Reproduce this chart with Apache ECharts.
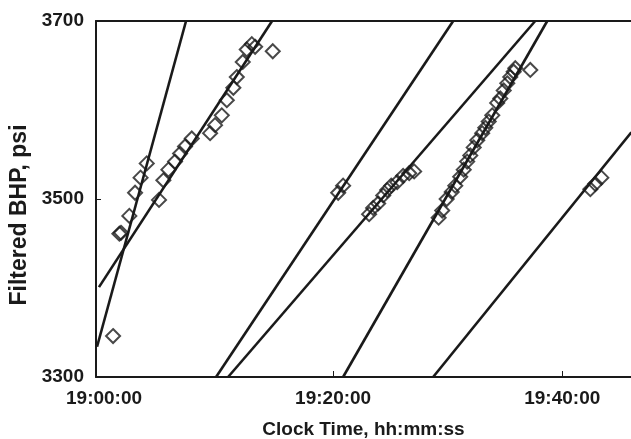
<!DOCTYPE html>
<html>
<head>
<meta charset="utf-8">
<script src="https://cdn.jsdelivr.net/npm/echarts@6/dist/echarts.min.js"></script>
<style>
    html, body { margin: 0; padding: 0; background: #fff; }
    #chartmain { width: 631px; height: 439px; }
</style>
</head>
<body>
<div id="chartmain"></div>
<script>
// x = minutes after 19:00:00, y = filtered BHP (psi)
var xTickValues = [0, 20, 40];
var xTickLabels = ['19:00:00', '19:20:00', '19:40:00'];
var yTickValues = [3300, 3500, 3700];

// 测点 (diamonds), one group per flow period
var pointsA = [[0.79, 3346], [1.34, 3461], [1.48, 3462], [2.21, 3481], [2.71, 3507], [3.19, 3524], [3.73, 3540]];
var pointsB = [[4.80, 3499], [5.18, 3521], [5.62, 3533], [6.20, 3542], [6.64, 3551], [7.07, 3559], [7.66, 3568],
    [9.26, 3574], [9.69, 3583], [10.28, 3594], [10.72, 3611], [11.29, 3625], [11.59, 3637], [12.11, 3654],
    [12.46, 3668], [12.90, 3674], [13.19, 3671], [14.73, 3666]];
var pointsC = [[20.44, 3507], [20.87, 3515]];
var pointsD = [[23.14, 3483], [23.49, 3490], [23.93, 3495], [24.37, 3504], [24.72, 3510], [25.07, 3515],
    [25.59, 3519], [26.11, 3526], [26.64, 3529], [27.07, 3531]];
var pointsE = [[29.21, 3479], [29.52, 3487], [29.91, 3500], [30.35, 3508], [30.66, 3515], [31.09, 3525],
    [31.40, 3533], [31.70, 3542], [31.97, 3549], [32.27, 3558], [32.58, 3566], [33.01, 3574], [33.28, 3580],
    [33.58, 3587], [33.89, 3594], [34.32, 3608], [34.59, 3613], [34.89, 3622], [35.20, 3630], [35.46, 3637],
    [35.76, 3643], [35.90, 3647], [37.21, 3645]];
var pointsF = [[42.45, 3511], [42.88, 3517], [43.41, 3524]];

// 拟合直线 (end points)
var line1 = [[-0.61, 3334], [7.16, 3700]];
var line2 = [[-0.44, 3401], [14.67, 3700]];
var line3 = [[9.78, 3300], [30.48, 3700]];
var line4 = [[10.83, 3300], [37.64, 3700]];
var line5 = [[20.87, 3300], [38.69, 3700]];
var line6 = [[28.73, 3300], [46.03, 3575]];

var ink = '#1a1a1a';
var fontFamily = '"Liberation Sans", Arial, Helvetica, sans-serif';

function lineSeries(data) {
    return {
        type: 'line',
        data: data,
        symbol: 'none',
        silent: true,
        lineStyle: { color: ink, width: 2.6 },
        z: 3
    };
}

function pointSeries(data) {
    return {
        type: 'scatter',
        data: data,
        symbol: 'diamond',
        symbolSize: [14, 14],
        itemStyle: { color: 'rgba(255,255,255,0)', borderColor: ink, borderWidth: 2 },
        z: 4
    };
}

var myChart = echarts.init(document.getElementById('chartmain'));
var option = {
    animation: false,
    backgroundColor: '#fff',
    grid: { left: 96, right: 0, top: 21, bottom: 62, containLabel: false, outerBoundsMode: 'none' },
    xAxis: [{
        type: 'value',
        min: -0.7,
        max: 46,
        name: 'Clock Time, hh:mm:ss',
        nameLocation: 'middle',
        nameGap: 43,
        nameTextStyle: { color: ink, fontFamily: fontFamily, fontWeight: 'bold', fontSize: 19 },
        axisLine: { show: true, onZero: false, lineStyle: { color: ink, width: 2 } },
        axisTick: { show: true, inside: true, length: 6, customValues: [20, 40], lineStyle: { color: ink, width: 1 } },
        axisLabel: {
            customValues: xTickValues,
            margin: 12,
            color: ink, fontFamily: fontFamily, fontWeight: 'bold', fontSize: 19,
            formatter: function (value) {
                var i = xTickValues.indexOf(value);
                return i >= 0 ? xTickLabels[i] : '';
            }
        },
        splitLine: { show: false }
    }, {
        // 上边框
        type: 'value',
        position: 'top',
        min: -0.7,
        max: 46,
        axisLine: { show: true, onZero: false, lineStyle: { color: ink, width: 2 } },
        axisTick: { show: false },
        axisLabel: { show: false },
        splitLine: { show: false }
    }],
    yAxis: [{
        type: 'value',
        min: 3300,
        max: 3700,
        name: 'Filtered BHP, psi',
        nameLocation: 'middle',
        nameGap: 52,
        nameTextStyle: { color: ink, fontFamily: fontFamily, fontWeight: 'bold', fontSize: 23, padding: [0, 32, 0, 0] },
        axisLine: { show: true, onZero: false, lineStyle: { color: ink, width: 2 } },
        axisTick: { show: true, inside: true, length: 5, customValues: [3500], lineStyle: { color: ink, width: 1 } },
        axisLabel: {
            customValues: yTickValues,
            margin: 12,
            color: ink, fontFamily: fontFamily, fontWeight: 'bold', fontSize: 19,
            formatter: function (value) {
                return String(value);
            }
        },
        splitLine: { show: false }
    }],
    series: [
        lineSeries(line1), lineSeries(line2), lineSeries(line3),
        lineSeries(line4), lineSeries(line5), lineSeries(line6),
        pointSeries(pointsA), pointSeries(pointsB), pointSeries(pointsC),
        pointSeries(pointsD), pointSeries(pointsE), pointSeries(pointsF)
    ]
};
myChart.setOption(option);
</script>
</body>
</html>
